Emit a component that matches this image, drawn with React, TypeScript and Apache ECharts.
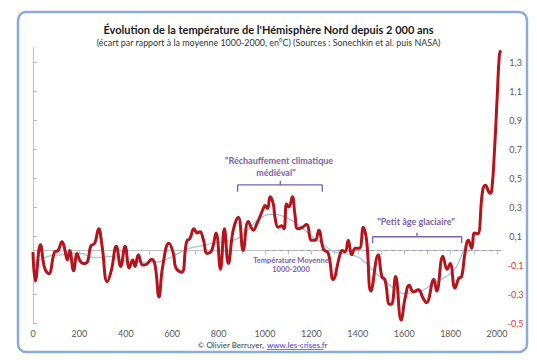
import React, { useEffect, useRef } from "react";
import * as echarts from "echarts";

// Température (écart à la moyenne 1000-2000, °C) — série principale
const years: number[] = [
  0, 10, 32, 50, 68, 93, 108, 125, 136, 148, 158, 175, 190, 201, 216, 234, 249, 266, 283, 297,
  320, 338, 359, 378, 397, 415, 430, 440, 454, 473, 490, 511, 526, 543, 559, 586, 605, 616, 641, 662,
  677, 694, 708, 720, 734, 751, 770, 789, 808, 825, 842, 863, 885, 906, 928, 950, 964, 993, 1000, 1011,
  1022, 1036, 1043, 1057, 1072, 1082, 1093, 1103, 1118, 1129, 1141, 1161, 1179, 1201, 1216, 1232, 1252, 1273, 1294, 1323,
  1333, 1345, 1359, 1374, 1390, 1407, 1424, 1438, 1457, 1488, 1504, 1517, 1537, 1546, 1563, 1587, 1605, 1622, 1640, 1661,
  1682, 1696, 1728, 1740, 1767, 1785, 1798, 1819, 1836, 1848, 1862, 1877, 1891, 1903, 1917, 1938, 1950, 1970, 1978, 1991,
  2001, 2010, 2016,
];
const temps: number[] = [
  -0.01, -0.21, 0.04, -0.12, -0.16, -0.01, 0.0, 0.06, 0.015, -0.065, 0.0, -0.14, -0.02, -0.065, -0.09, -0.08, 0.03, 0.05, 0.15, 0.04,
  -0.215, -0.135, 0.03, -0.11, 0.03, -0.12, -0.065, -0.11, -0.03, -0.1, -0.095, -0.06, -0.1, -0.32, -0.11, 0.05, -0.02, -0.12, -0.15, 0.06,
  0.085, 0.15, 0.12, 0.13, 0.077, -0.02, 0.0, 0.12, -0.13, 0.15, -0.09, 0.14, 0.23, 0.0, 0.2, 0.14, 0.18, 0.29, 0.31, 0.29,
  0.37, 0.32, 0.23, 0.16, 0.17, 0.15, 0.32, 0.3, 0.37, 0.25, 0.15, 0.16, 0.18, 0.07, 0.07, 0.14, 0.01, -0.02, -0.2, -0.03,
  0.0, -0.01, 0.07, -0.03, 0.016, 0.016, 0.16, 0.07, -0.28, -0.03, -0.18, -0.2, -0.37, -0.37, -0.18, -0.48, -0.32, -0.24, -0.285, -0.27,
  -0.33, -0.36, -0.2, -0.28, -0.04, -0.13, -0.09, -0.26, -0.19, -0.18, -0.02, 0.07, 0.016, 0.12, 0.115, 0.41, 0.45, 0.395, 0.42, 0.74,
  1.06, 1.34, 1.38,
];

// Tendance lissée (courbe bleue)
const trendYears: number[] = [
  0, 37, 65, 122, 180, 210, 240, 270, 338, 395, 450, 533, 576, 627, 662, 720, 777, 820, 880, 930,
  986, 1040, 1086, 1141, 1201, 1237, 1287, 1330, 1374, 1424, 1481, 1546, 1603, 1650, 1725, 1812, 1848, 1870,
];
const trendTemps: number[] = [
  -0.09, -0.06, -0.04, -0.03, -0.02, -0.02, -0.04, -0.05, -0.04, -0.07, -0.08, -0.08, -0.06, -0.02, 0.01, 0.03, 0.05, 0.06, 0.08, 0.15,
  0.23, 0.25, 0.23, 0.18, 0.1, 0.06, 0.0, -0.02, -0.03, -0.07, -0.16, -0.25, -0.295, -0.29, -0.23, -0.14, -0.03, 0.07,
];

// Moyenne 1000-2000 (ligne pointillée)
const meanLine: number[][] = [[1000, 0], [2020, 0]];

// Accolades des annotations
const medievalBracket: number[][] = [[882, 0.405], [882, 0.452], [1247, 0.452], [1247, 0.405]];
const medievalTick: number[][] = [[1066, 0.452], [1066, 0.48]];
const littleIceBracket: number[][] = [[1464, 0.052], [1464, 0.095], [1848, 0.095], [1848, 0.052]];
const littleIceTick: number[][] = [[1655, 0.095], [1655, 0.123]];

const xTicks = { min: 0, max: 2020, interval: 100 };
const yTicks = { min: -0.5, max: 1.4, interval: 0.2 };

const FONT = "Lato, 'Noto Sans', sans-serif";
const PURPLE = "#7D61A6";

export default function App() {
  const ref = useRef<HTMLDivElement>(null);
  useEffect(() => {
    if (!ref.current) return;
    const chart = echarts.init(ref.current, null, { renderer: "svg" });
    const red = years.map((y, i) => [y, temps[i]]);
    const trend = trendYears.map((y, i) => [y, trendTemps[i]]);
    const bracketStyle = { color: PURPLE, width: 1.3 };
    const bracket = (data: number[][]) => ({
      type: "line",
      data,
      symbol: "none",
      lineStyle: bracketStyle,
      silent: true,
      z: 4,
    });
    chart.setOption({
      animation: false,
      textStyle: { fontFamily: FONT },
      title: {
        text: "Évolution de la température de l'Hémisphère Nord depuis 2 000 ans",
        subtext: "(écart par rapport à la moyenne 1000-2000, en°C) (Sources : Sonechkin et al. puis NASA)",
        left: "center",
        top: 19,
        itemGap: 3,
        textStyle: { fontFamily: FONT, fontSize: 11, fontWeight: "bold", color: "#1a1a1a" },
        subtextStyle: { fontFamily: FONT, fontSize: 8.9, color: "#333" },
      },
      grid: { left: 33, right: 35.4, top: 47.5, bottom: 37 },
      xAxis: {
        type: "value",
        min: xTicks.min,
        max: xTicks.max,
        interval: xTicks.interval,
        splitLine: { show: false },
        axisLine: { lineStyle: { color: "#BFBFBF" } },
        axisTick: { show: true, length: 4, lineStyle: { color: "#BFBFBF" } },
        axisLabel: {
          interval: 1,
          showMaxLabel: false,
          color: "#595959",
          fontSize: 9,
          fontFamily: FONT,
          margin: 6,
          formatter: (v: number) => (v % 200 === 0 ? String(v) : ""),
        },
      },
      yAxis: {
        type: "value",
        position: "right",
        min: yTicks.min,
        max: yTicks.max,
        interval: yTicks.interval,
        splitLine: { show: false },
        axisLine: { show: true, lineStyle: { color: "#BFBFBF" } },
        axisTick: { show: true, length: 4, lineStyle: { color: "#BFBFBF" } },
        axisLabel: {
          showMaxLabel: false,
          fontSize: 9,
          fontFamily: FONT,
          align: "center",
          margin: 14,
          color: (v: any) => (Number(v) < 0 ? "#D9343A" : "#595959"),
          formatter: (v: number) => v.toFixed(1).replace(".", ","),
        },
      },
      series: [
        {
          type: "line",
          data: meanLine,
          symbol: "none",
          silent: true,
          lineStyle: { color: "#A49DBA", width: 1.2, type: [4, 3] },
          z: 1,
        },
        {
          type: "line",
          data: trend,
          smooth: 0.5,
          symbol: "none",
          silent: true,
          lineStyle: { color: "#9CC4DA", width: 1.2 },
          z: 2,
        },
        {
          type: "line",
          data: red,
          smooth: 0.45,
          symbol: "none",
          silent: true,
          lineStyle: { color: "#B4141C", width: 3 },
          z: 3,
        },
        bracket(medievalBracket),
        bracket(medievalTick),
        bracket(littleIceBracket),
        bracket(littleIceTick),
      ],
      graphic: [
        {
          type: "rect",
          shape: { x: 18, y: 12, width: 509, height: 340, r: 8 },
          style: { fill: "none", stroke: "#8AACD5", lineWidth: 2.5 },
          silent: true,
          z: -1,
        },
        {
          type: "text",
          x: 279,
          y: 160,
          style: { text: "\"Réchauffement climatique", font: `bold 9px ${FONT}`, fill: PURPLE, textAlign: "center", textVerticalAlign: "middle" },
        },
        {
          type: "text",
          x: 276,
          y: 172.5,
          style: { text: "médiéval\"", font: `bold 9px ${FONT}`, fill: PURPLE, textAlign: "center", textVerticalAlign: "middle" },
        },
        {
          type: "text",
          x: 416,
          y: 221.7,
          style: { text: "\"Petit âge glaciaire\"", font: `bold 9px ${FONT}`, fill: PURPLE, textAlign: "center", textVerticalAlign: "middle" },
        },
        {
          type: "text",
          x: 291,
          y: 260,
          style: { text: "Température Moyenne", font: `bold 7.5px ${FONT}`, fill: PURPLE, textAlign: "center", textVerticalAlign: "middle" },
        },
        {
          type: "text",
          x: 291,
          y: 269.5,
          style: { text: "1000-2000", font: `bold 7.5px ${FONT}`, fill: PURPLE, textAlign: "center", textVerticalAlign: "middle" },
        },
        {
          type: "text",
          x: 264,
          y: 345,
          style: { text: "© Olivier Berruyer,", font: `8px ${FONT}`, fill: "#404040", textAlign: "right", textVerticalAlign: "middle" },
        },
        {
          type: "text",
          x: 267,
          y: 345,
          style: { text: "www.les-crises.fr", font: `8px ${FONT}`, fill: "#3B3BC8", textAlign: "left", textVerticalAlign: "middle" },
        },
        {
          type: "line",
          shape: { x1: 267, y1: 349.5, x2: 323, y2: 349.5 },
          style: { stroke: "#3B3BC8", lineWidth: 0.7 },
        },
      ],
    });
    return () => chart.dispose();
  }, []);
  return <div ref={ref} style={{ position: "absolute", left: 0, top: 0, width: 537, height: 360 }} />;
}
